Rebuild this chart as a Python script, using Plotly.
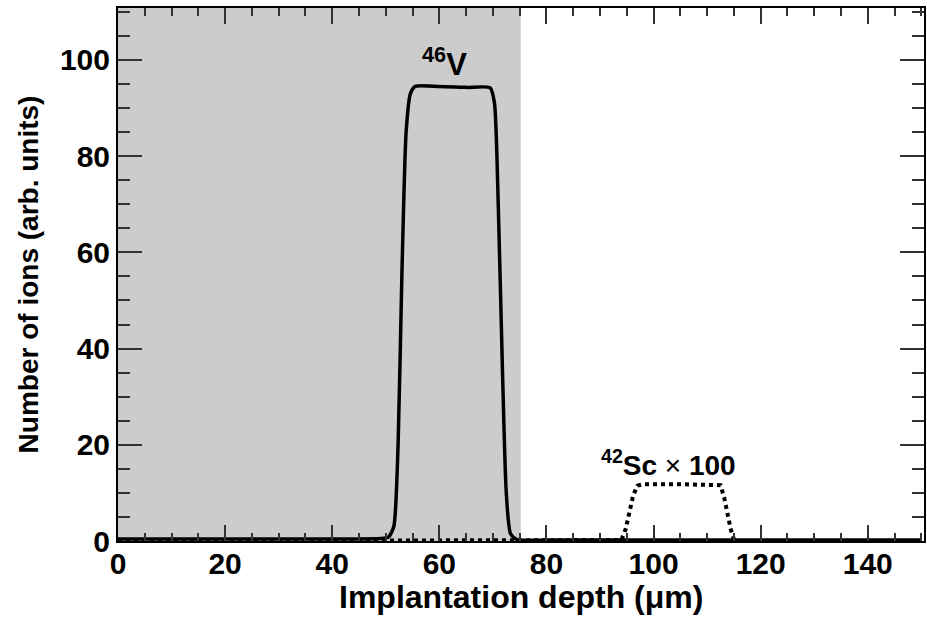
import plotly.graph_objects as go

# 46V depth profile (solid)
v46_depth = [0, 20, 40, 49, 50.5, 51.5, 52.3, 53.0, 53.8, 54.6, 55.5, 60, 65, 69.5, 70.3, 71.0, 71.8, 72.5, 73.3, 74.5, 80, 100, 120, 150]
v46_ions = [0.4, 0.4, 0.4, 0.5, 0.8, 3, 20, 55, 85, 93, 94.5, 94.5, 94.3, 94.2, 91, 70, 35, 10, 1.5, 0.3, 0.2, 0.2, 0.2, 0.2]

# 42Sc x 100 depth profile (dotted)
sc42_depth = [0, 40, 80, 92, 94, 94.8, 95.5, 96.2, 97.0, 98, 105, 110, 112.5, 113.2, 113.8, 114.4, 115.0, 116, 130, 150]
sc42_ions = [0, 0, 0, 0, 0.2, 2.5, 6, 9.5, 11.5, 11.8, 11.8, 11.8, 11.6, 9, 5.5, 2.5, 0.4, 0, 0, 0]

shade_x = [0, 75.2]

font = "Liberation Sans, Arial, sans-serif"

fig = go.Figure()
fig.add_shape(type="rect", xref="x", yref="paper", x0=shade_x[0], x1=shade_x[1], y0=0, y1=1,
              fillcolor="#cccccc", line=dict(width=0), layer="below")
fig.add_trace(go.Scatter(x=sc42_depth, y=sc42_ions, mode="lines",
                         line=dict(color="black", width=4, dash="4px,4px"), showlegend=False))
fig.add_trace(go.Scatter(x=v46_depth, y=v46_ions, mode="lines", line_shape="spline",
                         line=dict(color="black", width=3.5, smoothing=0.6), showlegend=False))

fig.add_annotation(x=61, y=99.5, xref="x", yref="y", showarrow=False,
                   text="<sup>46</sup>V", font=dict(family=font, size=31, color="black", weight="bold"))
fig.add_annotation(x=102.8, y=16.3, xref="x", yref="y", showarrow=False,
                   text="<sup>42</sup>Sc <span style='font-weight:normal'>×</span> 100",
                   font=dict(family=font, size=28, color="black", weight="bold"))
# x-axis title as an annotation so it can sit just under the tick labels
fig.add_annotation(x=0.5, y=-0.105, xref="paper", yref="paper", showarrow=False,
                   xanchor="center", yanchor="middle", text="Implantation depth (μm)",
                   font=dict(family=font, size=32, color="black", weight="bold"))

fig.update_xaxes(range=[0, 150.5], tickmode="array", tickvals=[0, 20, 40, 60, 80, 100, 120, 140],
                 ticks="inside", ticklen=16, tickwidth=1.5, tickcolor="#333",
                 minor=dict(dtick=5, ticks="inside", ticklen=8, tickwidth=1.5, tickcolor="#333"),
                 showline=True, linecolor="black", linewidth=2, mirror="ticks",
                 showgrid=False, zeroline=False, automargin=False, ticklabelstandoff=-5,
                 tickfont=dict(family=font, size=30, color="black", weight="bold"))
fig.update_yaxes(range=[0, 110.8], tickmode="array", tickvals=[0, 20, 40, 60, 80, 100],
                 ticks="inside", ticklen=24, tickwidth=1.5, tickcolor="#333",
                 minor=dict(dtick=5, ticks="inside", ticklen=12, tickwidth=1.5, tickcolor="#333"),
                 showline=True, linecolor="black", linewidth=2, mirror="ticks",
                 showgrid=False, zeroline=False, automargin=False,
                 tickfont=dict(family=font, size=30, color="black", weight="bold"),
                 title=dict(text="Number of ions (arb. units)", standoff=13,
                            font=dict(family=font, size=28, color="black", weight="bold")))

fig.update_layout(width=927, height=618, margin=dict(l=118, r=3, t=8, b=77),
                  plot_bgcolor="white", paper_bgcolor="white")
# drop the browser's default body margin so the figure sits at the window corner
fig.write_html("out.html", config={"displayModeBar": False},
               post_script="document.body.style.margin='0';")
